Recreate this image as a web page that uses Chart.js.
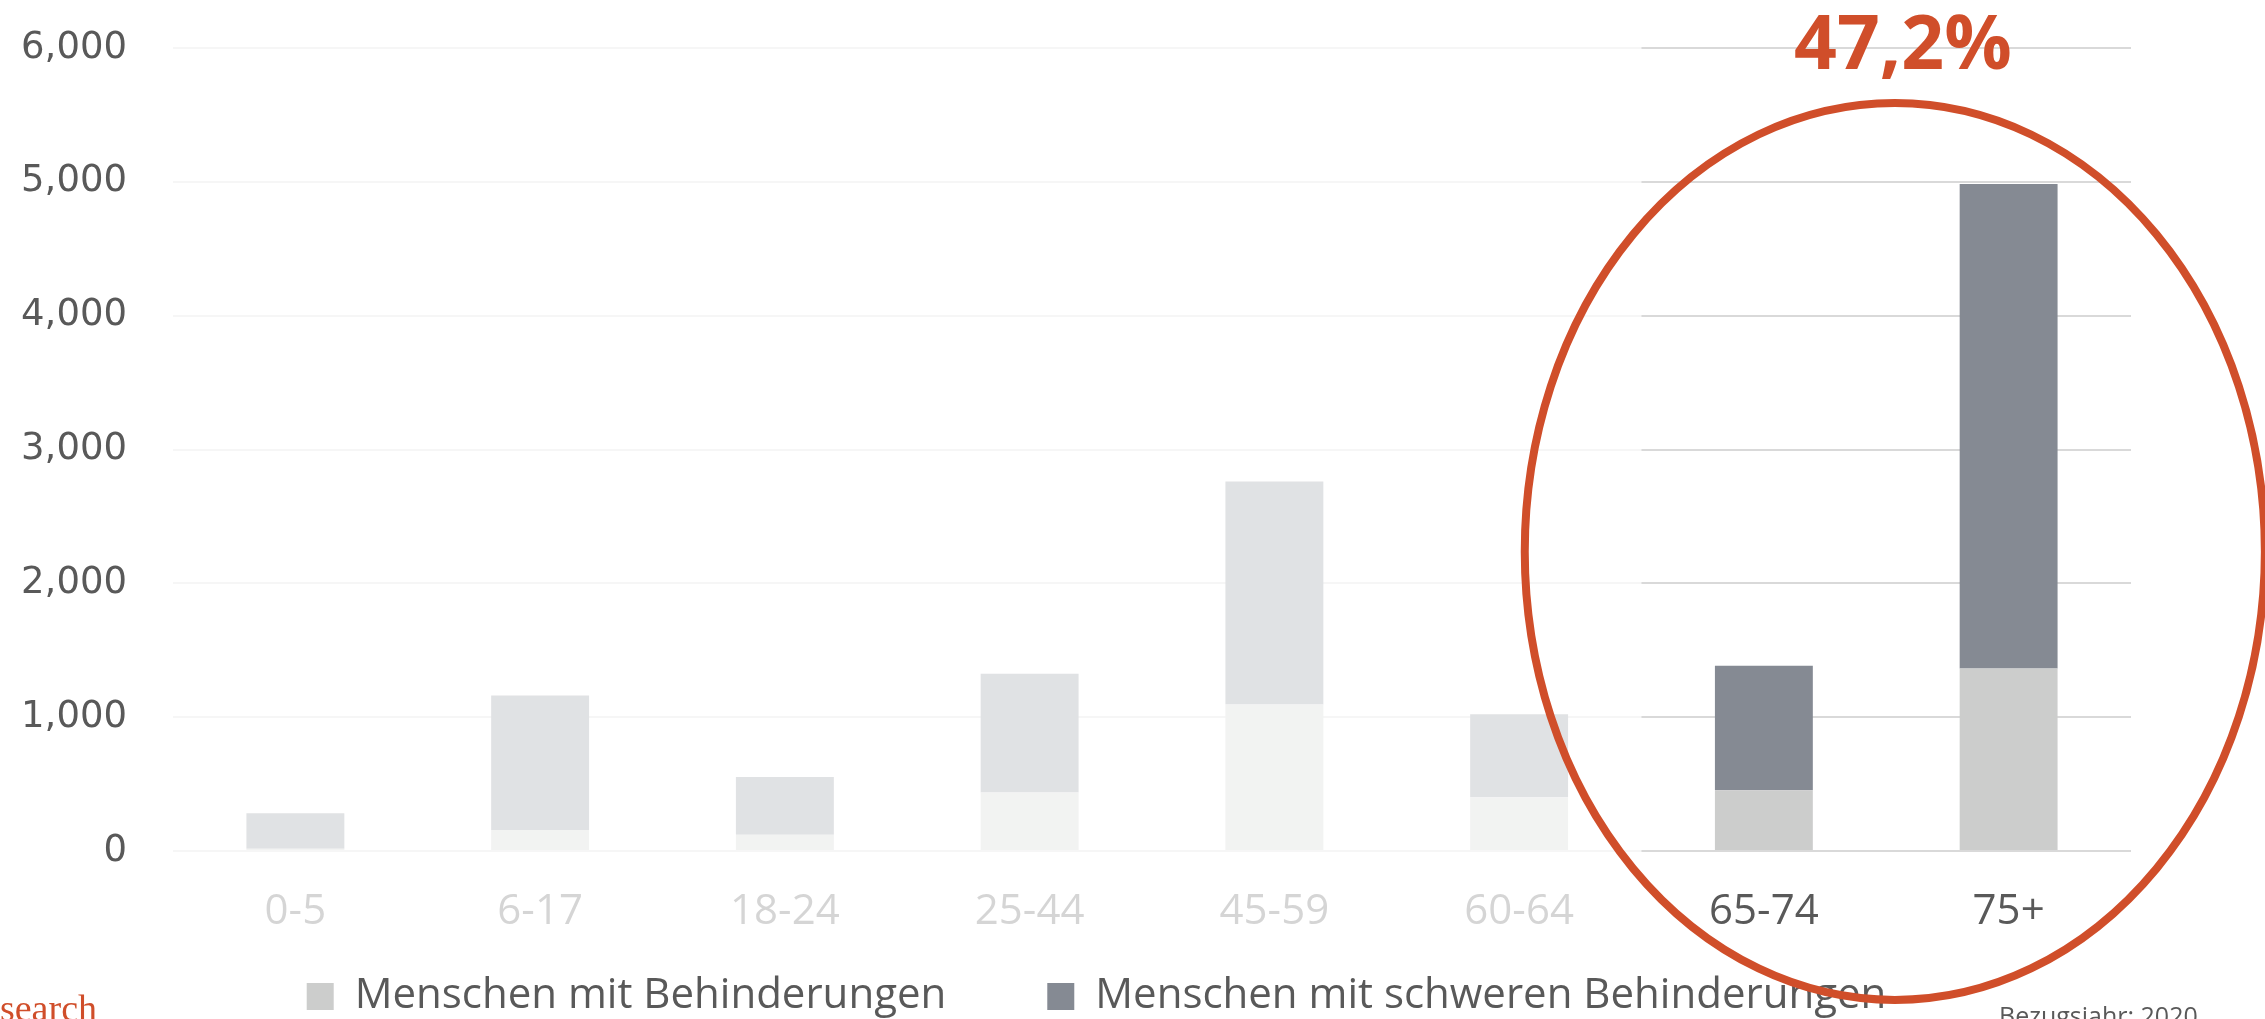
<!DOCTYPE html>
<html lang="de">
<head>
<meta charset="utf-8">
<title>Menschen mit Behinderungen nach Alter</title>
<script src="https://cdn.jsdelivr.net/npm/chart.js@4.4.1/dist/chart.umd.min.js"></script>
<style>
  html, body { margin: 0; padding: 0; background: #fff; }
  #wrap { width: 2265px; height: 1019px; position: relative; }
</style>
</head>
<body>
<div id="wrap"><canvas id="chart"></canvas></div>
<script>
// Age groups on the x axis
const ageGroups = ['0-5', '6-17', '18-24', '25-44', '45-59', '60-64', '65-74', '75+'];
// Stacked values (thousands): lower segment and upper segment
const withDisability = [17, 157, 122, 437, 1095, 401, 453, 1363];
const severeDisability = [265, 1005, 430, 887, 1666, 620, 931, 3620];
// Value axis
const yMax = 6000;
const yStep = 1000;
// Highlighted part of the chart (from 65-74 on)
const highlightFrom = 6;
const highlightText = '47,2%';
const yearNote = 'Bezugsjahr: 2020';
const sourceNote = 'Research';

const ORANGE = '#d04e2a';
const TEXT = '#595959';
const sansFont = "'Open Sans', sans-serif";
const legendShift = 26;

// Fades the non-highlighted groups and draws the circle + percentage
const highlightPlugin = {
    id: 'highlight',
    afterLayout(chart) {
        // nudge the legend a bit to the right, like on the slide
        chart.legend.left += legendShift;
        chart.legend.right += legendShift;
    },
    afterDraw(chart) {
        const { ctx, chartArea } = chart;
        const x = chart.scales.x;
        const y = chart.scales.y;
        const split = (x.getPixelForValue(highlightFrom - 1) + x.getPixelForValue(highlightFrom)) / 2;

        ctx.save();
        // white veil over the younger groups
        ctx.fillStyle = 'rgba(255, 255, 255, 0.75)';
        ctx.fillRect(chartArea.left - 20, 0, split - chartArea.left + 20, x.bottom);

        // ellipse, anchored in data units
        const cx = x.getPixelForValue(6.535);
        const rx = x.getPixelForValue(6.535 + 1.512) - cx;
        const cy = y.getPixelForValue(2238);
        const ry = y.getPixelForValue(2238 - 3351) - cy;
        ctx.beginPath();
        ctx.ellipse(cx, cy, rx, ry, 0, 0, Math.PI * 2);
        ctx.lineWidth = 8;
        ctx.strokeStyle = ORANGE;
        ctx.stroke();

        // percentage above it
        ctx.font = "bold 75px 'Open Sans'";
        ctx.fillStyle = ORANGE;
        ctx.textAlign = 'center';
        ctx.textBaseline = 'alphabetic';
        ctx.fillText(highlightText, x.getPixelForValue(6.568), y.getPixelForValue(5840));

        // footer bits (cut by the lower edge, as in the slide)
        ctx.font = "25px 'Open Sans'";
        ctx.fillStyle = TEXT;
        ctx.textAlign = 'left';
        ctx.fillText(yearNote, 1999, 1025);

        ctx.font = "38px 'Liberation Serif'";
        ctx.fillStyle = ORANGE;
        ctx.textAlign = 'right';
        ctx.fillText(sourceNote, 97, 1021);
        ctx.restore();
    }
};

new Chart(document.getElementById('chart'), {
    type: 'bar',
    data: {
        labels: ageGroups,
        datasets: [
            {
                label: 'Menschen mit Behinderungen',
                data: withDisability,
                backgroundColor: '#cccdcc',
                borderColor: '#cccdcc',
                borderWidth: 0
            },
            {
                label: 'Menschen mit schweren Behinderungen',
                data: severeDisability,
                backgroundColor: '#858a93',
                borderColor: '#858a93',
                borderWidth: 0
            }
        ]
    },
    options: {
        responsive: true,
        maintainAspectRatio: false,
        animation: false,
        devicePixelRatio: 1,
        datasets: {
            bar: { categoryPercentage: 1, barPercentage: 0.4 }
        },
        layout: {
            padding: { left: 10, right: 134, top: 48, bottom: -8.5 }
        },
        plugins: {
            legend: {
                position: 'bottom',
                labels: {
                    boxWidth: 27,
                    boxHeight: 27,
                    padding: 26.5,
                    color: TEXT,
                    font: { family: sansFont, size: 42 },
                    generateLabels(chart) {
                        const items = Chart.defaults.plugins.legend.labels.generateLabels(chart);
                        // empty slot between the two entries -> wider gap
                        items.splice(1, 0, {
                            text: '',
                            fillStyle: 'rgba(0,0,0,0)',
                            strokeStyle: 'rgba(0,0,0,0)',
                            lineWidth: 0,
                            hidden: false,
                            datasetIndex: -1
                        });
                        return items;
                    }
                }
            },
            tooltip: { enabled: false }
        },
        scales: {
            x: {
                stacked: true,
                grid: { display: false, drawTicks: false },
                border: { display: false },
                ticks: {
                    color: TEXT,
                    padding: 36,
                    font: { family: sansFont, size: 42 }
                },
                afterFit(scale) { scale.height = 98; }
            },
            y: {
                stacked: true,
                min: 0,
                max: yMax,
                grid: { color: '#d9d9d9', lineWidth: 2, drawTicks: false },
                border: { display: false },
                ticks: {
                    stepSize: yStep,
                    padding: 46,
                    color: TEXT,
                    font: { family: "'DejaVu Sans', sans-serif", size: 37 },
                    callback: value => value.toLocaleString('en-US')
                },
                afterFit(scale) {
                    scale.width = 163;
                    scale.paddingTop = 0;
                    scale.paddingBottom = 0;
                }
            }
        }
    },
    plugins: [highlightPlugin]
});
</script>
</body>
</html>
